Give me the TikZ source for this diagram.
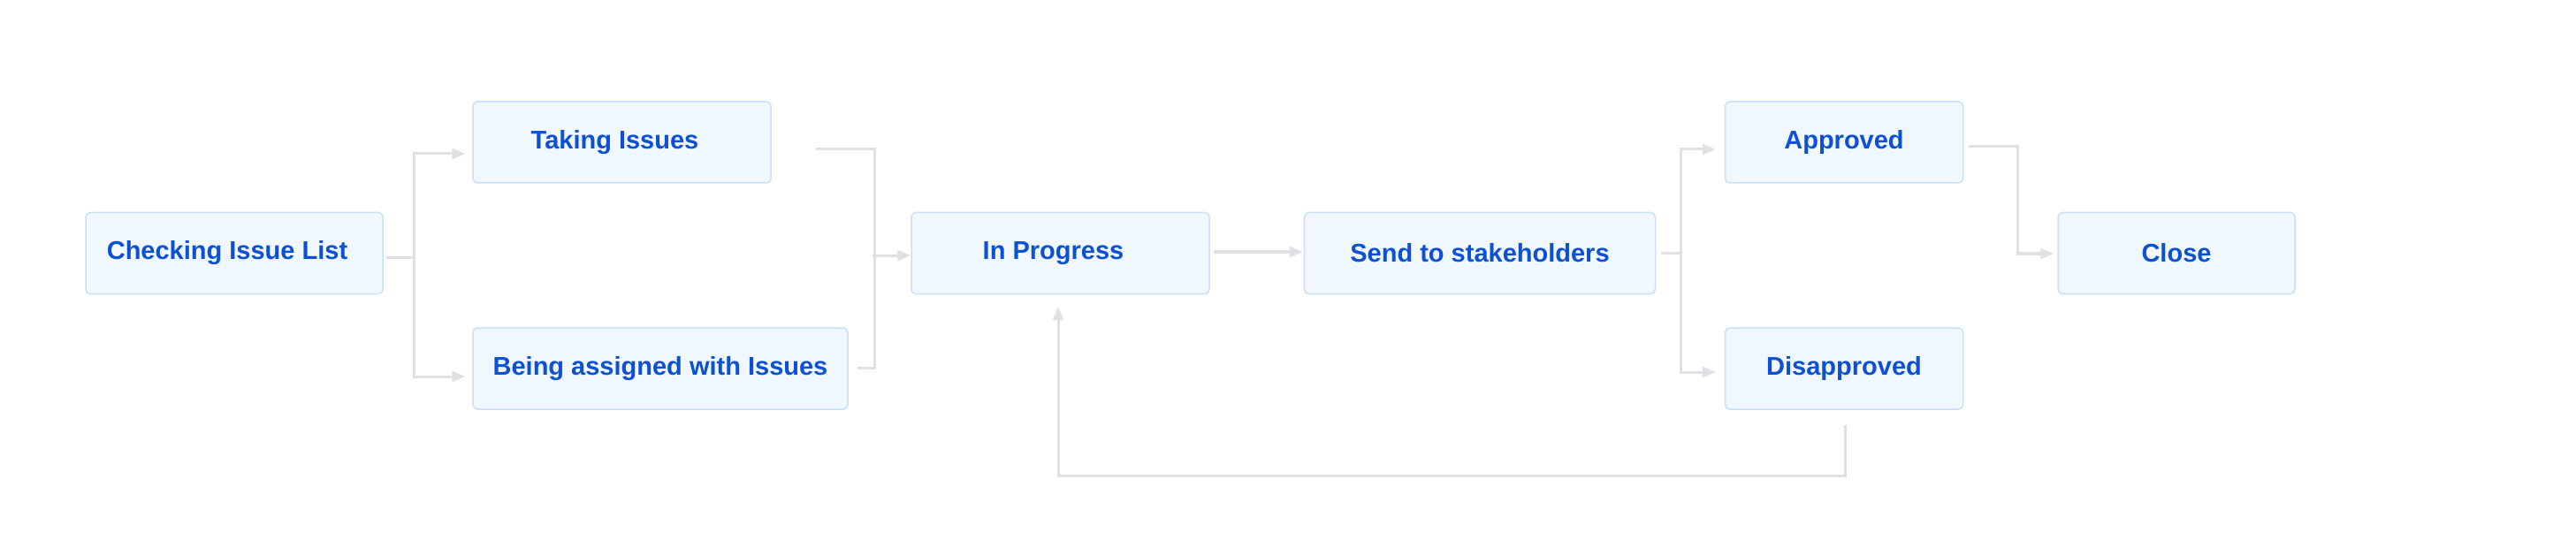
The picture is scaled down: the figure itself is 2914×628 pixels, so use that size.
\documentclass[tikz,border=0pt]{standalone}
\usepackage{fontspec}
\setmainfont{Liberation Sans}
\usetikzlibrary{arrows.meta,calc}
\definecolor{boxfill}{HTML}{F0F7FE}
\definecolor{boxline}{HTML}{C8E0FB}
\definecolor{txt}{HTML}{0B50D5}
\definecolor{conn}{HTML}{DFDFE4}
\tikzset{
  state/.style={draw=boxline, line width=1.5pt, fill=boxfill, rounded corners=5pt,
    minimum height=92pt, inner sep=0pt, text=txt,
    font=\fontsize{29pt}{34pt}\selectfont\bfseries},
  conn/.style={draw=conn, line width=3pt},
  arr/.style={conn, -{Triangle[length=15pt,width=12pt]}},
}
\begin{document}
\begin{tikzpicture}[x=1pt,y=-1pt]
\useasboundingbox (0,0) rectangle (2914,628);
\node[state, minimum width=336pt] (chk) at (265,286.5) {Checking Issue List\hspace*{16pt}};
\node[state, minimum width=337pt] (tak) at (703.5,161) {Taking Issues\hspace*{16pt}};
\node[state, minimum width=424pt] (bei) at (747,417) {Being assigned with Issues};
\node[state, minimum width=337pt] (inp) at (1199.5,286.5) {In Progress\hspace*{16pt}};
\node[state, minimum width=397pt] (snd) at (1674,286.5) {Send to stakeholders};
\node[state, minimum width=269pt] (app) at (2086,161) {Approved};
\node[state, minimum width=269pt] (dis) at (2086,417) {Disapproved};
\node[state, minimum width=268pt] (cls) at (2462,286.5) {Close};
% Checking -> Taking / Being
\coordinate (c1) at ($(chk.east)+(3,4.5)$);
\draw[arr] (c1) -- ++(32,0) |- ($(tak.west)+(-8,13)$);
\draw[arr] (c1) -- ++(32,0) |- ($(bei.west)+(-8,9)$);
% Taking / Being -> In Progress
\coordinate (t1) at ($(tak.east)+(50,8)$);
\coordinate (b1) at ($(bei.east)+(10,-1)$);
\draw[conn] (t1) -- ++(67,0) |- ($(inp.west)+(-20,2.5)$);
\draw[conn] (b1) -- ++(20,0) -- ++(0,-127);
\draw[arr] ($(inp.west)+(-43,2.5)$) -- ($(inp.west)+(0,2.5)$);
% In Progress -> Send
\draw[arr] ($(inp.east)+(4,-1.5)$) -- ($(snd.west)+(-1,-1.5)$);
% Send -> Approved / Disapproved
\coordinate (s1) at ($(snd.east)+(6,0)$);
\draw[arr] (s1) -- ++(22,0) |- ($(app.west)+(-10,8)$);
\draw[arr] (s1) -- ++(22,0) |- ($(dis.west)+(-10,4)$);
% Approved -> Close
\draw[arr] ($(app.east)+(6,5)$) -- ++(55,0) |- ($(cls.west)+(-4,0.5)$);
% Disapproved -> In Progress
\draw[arr] ($(dis.south)+(1,17)$) -- ++(0,58) -| ($(inp.south)+(-2.5,14)$);
\end{tikzpicture}
\end{document}
